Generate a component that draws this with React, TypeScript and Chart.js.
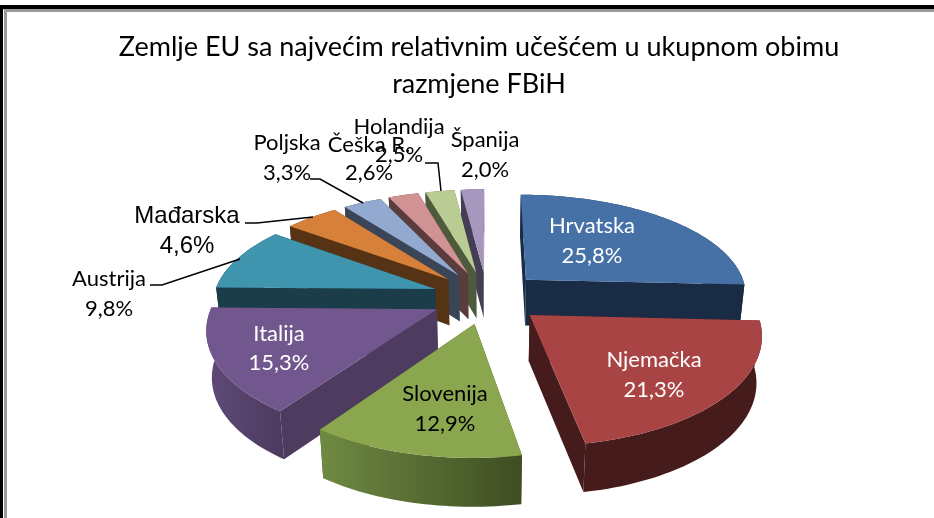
import React, { useEffect, useRef } from "react";
import { Chart, registerables } from "chart.js";

Chart.register(...registerables);

const titleLines = ["Zemlje EU sa najvećim relativnim učešćem u ukupnom obimu", "razmjene FBiH"];
const categories = ["Hrvatska", "Njemačka", "Slovenija", "Italija", "Austrija", "Mađarska", "Poljska", "Češka R.", "Holandija", "Španija"];
const shares = [25.8, 21.3, 12.9, 15.3, 9.8, 4.6, 3.3, 2.6, 2.5, 2.0];
const shareLabels = ["25,8%", "21,3%", "12,9%", "15,3%", "9,8%", "4,6%", "3,3%", "2,6%", "2,5%", "2,0%"];

const topColors = ["#4571A7", "#A84544", "#8AA64E", "#72578F", "#4095AE", "#D7803A", "#93A9CF", "#D09292", "#B9CC94", "#A597BD"];
const sideColors = ["#1A2B45", "#451C1B", "#3E4D22", "#4D3B60", "#1B3C49", "#573316", "#3A4558", "#5A3C3C", "#4F5A3C", "#453D53"];
const curveLeft = ["#1A2B45", "#451C1B", "#6F8A42", "#5F4A78", "#1B3C49", "#573316", "#3A4558", "#5A3C3C", "#4F5A3C", "#453D53"];
const curveRight = ["#1A2B45", "#451C1B", "#3E4D22", "#4D3B60", "#1B3C49", "#573316", "#3A4558", "#5A3C3C", "#4F5A3C", "#453D53"];
const labelColors = ["#FFFFFF", "#FFFFFF", "#000000", "#FFFFFF", "#000000", "#000000", "#000000", "#000000", "#000000", "#000000"];
const labelFonts = ["Lato", "Lato", "Lato", "Lato", "Lato", "Liberation Sans", "Lato", "Lato", "Lato", "Lato"];
const labelX = [592, 654, 445, 279, 109, 187, 287, 369, 399, 485];
const labelY1 = [226, 360, 394, 334, 279, 216, 143, 145, 127, 140];
const labelY2 = [256, 390, 424, 363, 309, 246, 173, 173, 155, 170];
const leaders = [
  [[150, 285], [162, 285], [240, 259]],
  [[245, 223], [257, 223], [313, 217]],
  [[310, 179], [320, 179], [363, 203]],
  [[425, 163], [438, 163], [441, 191]],
];

const view = { cx: 487, cy: 297, radius: 222, squashNear: 107, squashFar: 103, perspNear: 0.17, perspFar: 0.13, depth: 46, taper: 0.98 };

function project(wx: number, wy: number) {
  const near = wy >= 0;
  const s = 1 + (near ? view.perspNear : view.perspFar) * wy;
  return { x: view.cx + view.radius * wx * s, y: view.cy + (near ? view.squashNear : view.squashFar) * wy * s, wy };
}
function lower(p: { x: number; y: number; wy: number }) {
  return { x: view.cx + (p.x - view.cx) * view.taper, y: p.y + view.depth * (1 + 0.05 * p.wy), wy: p.wy };
}
function poly(ctx: CanvasRenderingContext2D, pts: { x: number; y: number }[], color: any) {
  ctx.beginPath();
  pts.forEach((p, i) => (i ? ctx.lineTo(p.x, p.y) : ctx.moveTo(p.x, p.y)));
  ctx.closePath();
  ctx.fillStyle = color;
  ctx.fill();
}

const pie3d = {
  id: "pie3d",
  beforeDatasetsDraw(chart: any) {
    const ctx: CanvasRenderingContext2D = chart.ctx;
    const arcs = chart.getDatasetMeta(0).data as any[];
    const order = arcs
      .map((el, i) => ({ el, i, mid: (el.startAngle + el.endAngle) / 2 }))
      .sort((a, b) => Math.sin(a.mid) - Math.sin(b.mid));
    ctx.save();
    for (const { el, i, mid } of order) {
      const e = el.options.offset / view.radius;
      const ox = e * Math.cos(mid);
      const oy = e * Math.sin(mid);
      const apex = project(ox, oy);
      const n = Math.max(4, Math.ceil((el.endAngle - el.startAngle) * 40));
      const rim: any[] = [];
      for (let k = 0; k <= n; k++) {
        const a = el.startAngle + ((el.endAngle - el.startAngle) * k) / n;
        rim.push(project(ox + Math.cos(a), oy + Math.sin(a)));
      }
      const first = rim[0];
      const last = rim[rim.length - 1];
      const walls = [first, last].sort((a, b) => a.wy - b.wy);
      walls.forEach((c) => poly(ctx, [apex, c, lower(c), lower(apex)], sideColors[i]));
      const xs = rim.map((p) => p.x);
      const grad = ctx.createLinearGradient(Math.min(...xs), 0, Math.max(...xs), 0);
      grad.addColorStop(0, curveLeft[i]);
      grad.addColorStop(1, curveRight[i]);
      poly(ctx, [...rim, ...rim.slice().reverse().map(lower)], grad);
      poly(ctx, [apex, ...rim], topColors[i]);
    }
    ctx.restore();
    return false;
  },
  afterDraw(chart: any) {
    const ctx: CanvasRenderingContext2D = chart.ctx;
    ctx.save();
    ctx.fillStyle = "#000000";
    ctx.fillRect(0, 5, 934, 4);
    ctx.fillRect(0, 5, 3, 513);
    ctx.fillStyle = "#9A9A9A";
    ctx.fillRect(4, 9, 930, 3);
    ctx.fillRect(4, 9, 3, 509);
    ctx.strokeStyle = "#000000";
    ctx.lineWidth = 1.5;
    leaders.forEach((line) => {
      ctx.beginPath();
      line.forEach((p, i) => (i ? ctx.lineTo(p[0], p[1]) : ctx.moveTo(p[0], p[1])));
      ctx.stroke();
    });
    ctx.textAlign = "center";
    ctx.textBaseline = "middle";
    categories.forEach((name, i) => {
      const big = labelFonts[i] !== "Lato";
      ctx.font = `${big ? 24 : 22}px "${labelFonts[i]}"`;
      ctx.fillStyle = labelColors[i];
      ctx.fillText(name, labelX[i], labelY1[i]);
      ctx.fillText(shareLabels[i], labelX[i], labelY2[i]);
    });
    ctx.restore();
  },
};

export default function App() {
  const ref = useRef<HTMLCanvasElement>(null);
  useEffect(() => {
    const chart = new Chart(ref.current!, {
      type: "pie",
      plugins: [pie3d],
      data: {
        labels: categories,
        datasets: [{ data: shares, backgroundColor: topColors, offset: 55, borderWidth: 0 }],
      },
      options: {
        responsive: false,
        animation: false,
        layout: { padding: { left: 24, top: 12 } },
        plugins: {
          legend: { display: false },
          tooltip: { enabled: false },
          title: {
            display: true,
            text: titleLines,
            color: "#000000",
            font: { family: "Lato", size: 27, weight: "normal", lineHeight: 1.37 },
            padding: { top: 17, bottom: 4 },
          },
        },
      },
    } as any);
    return () => chart.destroy();
  }, []);
  return (
    <div style={{ position: "absolute", left: 0, top: 0, width: 934, height: 518, background: "#fff" }}>
      <canvas ref={ref} width={934} height={518} style={{ display: "block" }} />
    </div>
  );
}
